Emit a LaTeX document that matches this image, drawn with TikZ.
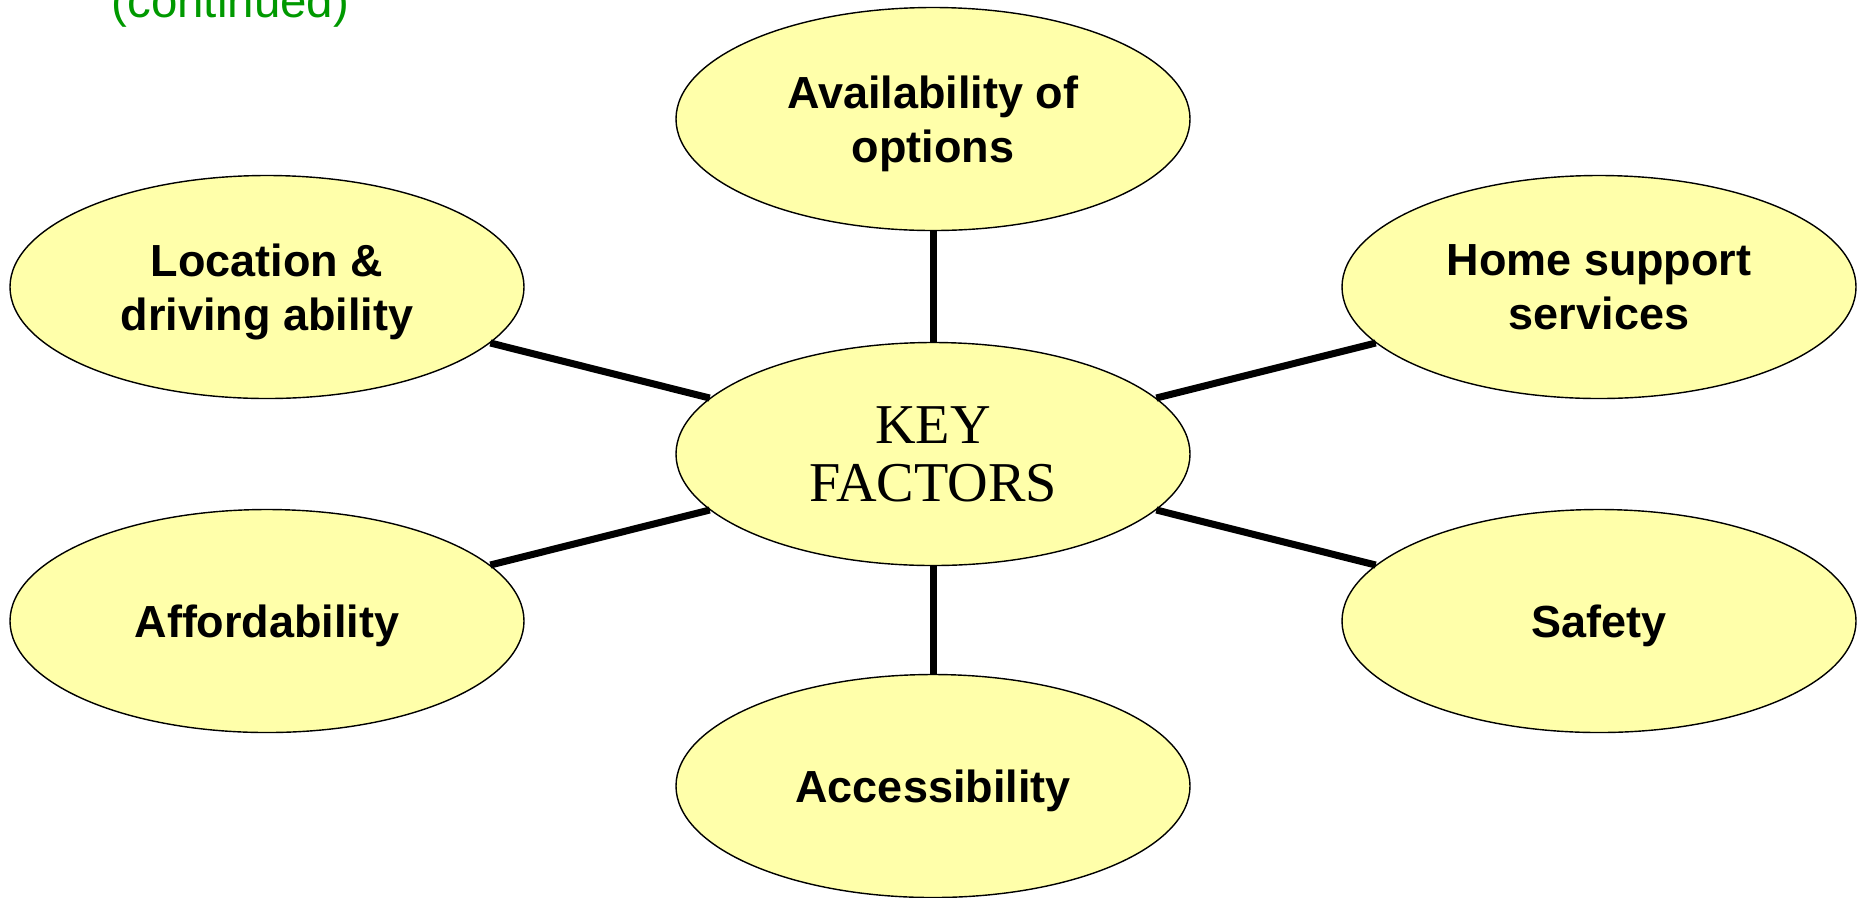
\documentclass[tikz,border=0pt]{standalone}
\usepackage{fontspec}
\setmainfont{Liberation Serif}
\setsansfont{Liberation Sans}
\usepackage{tikz}
\usetikzlibrary{shapes.geometric}

\definecolor{ovalyellow}{RGB}{255,255,170}
\definecolor{titlegreen}{RGB}{0,153,0}

\begin{document}
\begin{tikzpicture}

\tikzstyle{every node} = [ellipse, draw=black, line width=0.4pt, fill=ovalyellow,
  minimum width=5.14cm, minimum height=2.23cm, inner sep=0pt, align=center, text depth=0pt,
  font=\sffamily\bfseries\fontsize{12.8}{15.4}\selectfont]

\useasboundingbox (0,0) rectangle (18.6,-8.97);

\node[draw=none, fill=none, rectangle, minimum width=0pt, minimum height=0pt,
  anchor=base west, text=titlegreen, font=\sffamily\fontsize{13.5}{15}\selectfont]
  (t) at (1.11,-0.17) {(continued)};

\node[font=\rmfamily\fontsize{16}{16.5}\selectfont] (k) at (9.33,-4.54) {KEY\\FACTORS};

\node (o) at (9.33,-1.19) {Availability of\\options};
\node (l) at (2.67,-2.87) {Location \&\\driving ability};
\node (h) at (15.99,-2.87) {Home support\\services};
\node (f) at (2.67,-6.21) {Affordability};
\node (s) at (15.99,-6.21) {Safety};
\node (a) at (9.33,-7.86) {Accessibility};

\draw[-, line width=2pt] (k) -- (o);
\draw[-, line width=2pt] (k) -- (l);
\draw[-, line width=2pt] (k) -- (h);
\draw[-, line width=2pt] (k) -- (f);
\draw[-, line width=2pt] (k) -- (s);
\draw[-, line width=2pt] (k) -- (a);

\end{tikzpicture}
\end{document}
